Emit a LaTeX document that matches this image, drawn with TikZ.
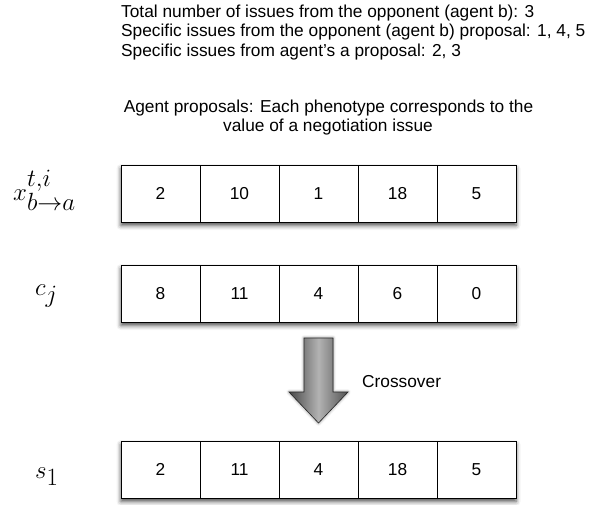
\documentclass[tikz,border=0pt]{standalone}
\usepackage[no-math]{fontspec}
\setmainfont{Liberation Sans}
\usetikzlibrary{shadows.blur}
\begin{document}
\begin{tikzpicture}[x=1pt,y=-1pt,
  cell/.style={draw, fill=white, minimum width=79pt, minimum height=57pt, inner sep=0pt, outer sep=0pt, line width=0.9pt, font=\fontsize{17.3}{20}\selectfont},
  rowbox/.style={fill=white, minimum width=395pt, minimum height=57pt, inner sep=0pt, outer sep=0pt,
     blur shadow={shadow xshift=0pt, shadow yshift=-3.5pt, shadow blur radius=4.5pt, shadow opacity=70}},
  lbl/.style={font=\fontsize{35}{40}\selectfont, inner sep=0pt, anchor=base west},
  txt/.style={font=\fontsize{17.3}{20}\selectfont, inner sep=0pt}]
\useasboundingbox (0,0) rectangle (592,504);

\node[txt, anchor=base west] (info1) at (121,17) {Total number of issues from the opponent (agent b): 3};
\node[txt, anchor=base west] (info2) at (121,36.5) {Specific issues from the opponent (agent b) proposal: 1, 4, 5};
\node[txt, anchor=base west] (info3) at (121,56) {Specific issues from agent's a proposal: 2, 3};
\node[txt, anchor=base] (title1) at (328.5,112) {Agent proposals: Each phenotype corresponds to the};
\node[txt, anchor=base] (title2) at (328,131.5) {value of a negotiation issue};

% rows
\foreach \r/\y in {1/193.5, 2/293.5, 3/469.5} {
  \node[rowbox] (row\r) at (318.5,\y) {};
}
\foreach \v [count=\i] in {2,10,1,18,5} { \node[cell] (a\i) at (81.5+79*\i,193.5) {\v}; }
\foreach \v [count=\i] in {8,11,4,6,0} { \node[cell] (b\i) at (81.5+79*\i,293.5) {\v}; }
\foreach \v [count=\i] in {2,11,4,18,5} { \node[cell] (c\i) at (81.5+79*\i,469.5) {\v}; }

\node[lbl] (lx) at (13,200) {$x^{t,i}_{b\rightarrow a}$};
\node[lbl] (lc) at (35,295) {$c_j$};
\node[lbl] (ls) at (35,478) {$s_1$};

% crossover arrow
\path[left color=black!72, right color=black!68, middle color=black!30, draw=black!85, line width=0.6pt,
  blur shadow={shadow xshift=0pt, shadow yshift=0pt, shadow blur radius=3pt, shadow opacity=50}]
  (304,338) -- (333,338) -- (333,392) -- (348,392) -- (318.5,423) -- (289,392) -- (304,392) -- cycle;
\node[txt, anchor=base west] (cross) at (362,387) {Crossover};
\end{tikzpicture}
\end{document}
